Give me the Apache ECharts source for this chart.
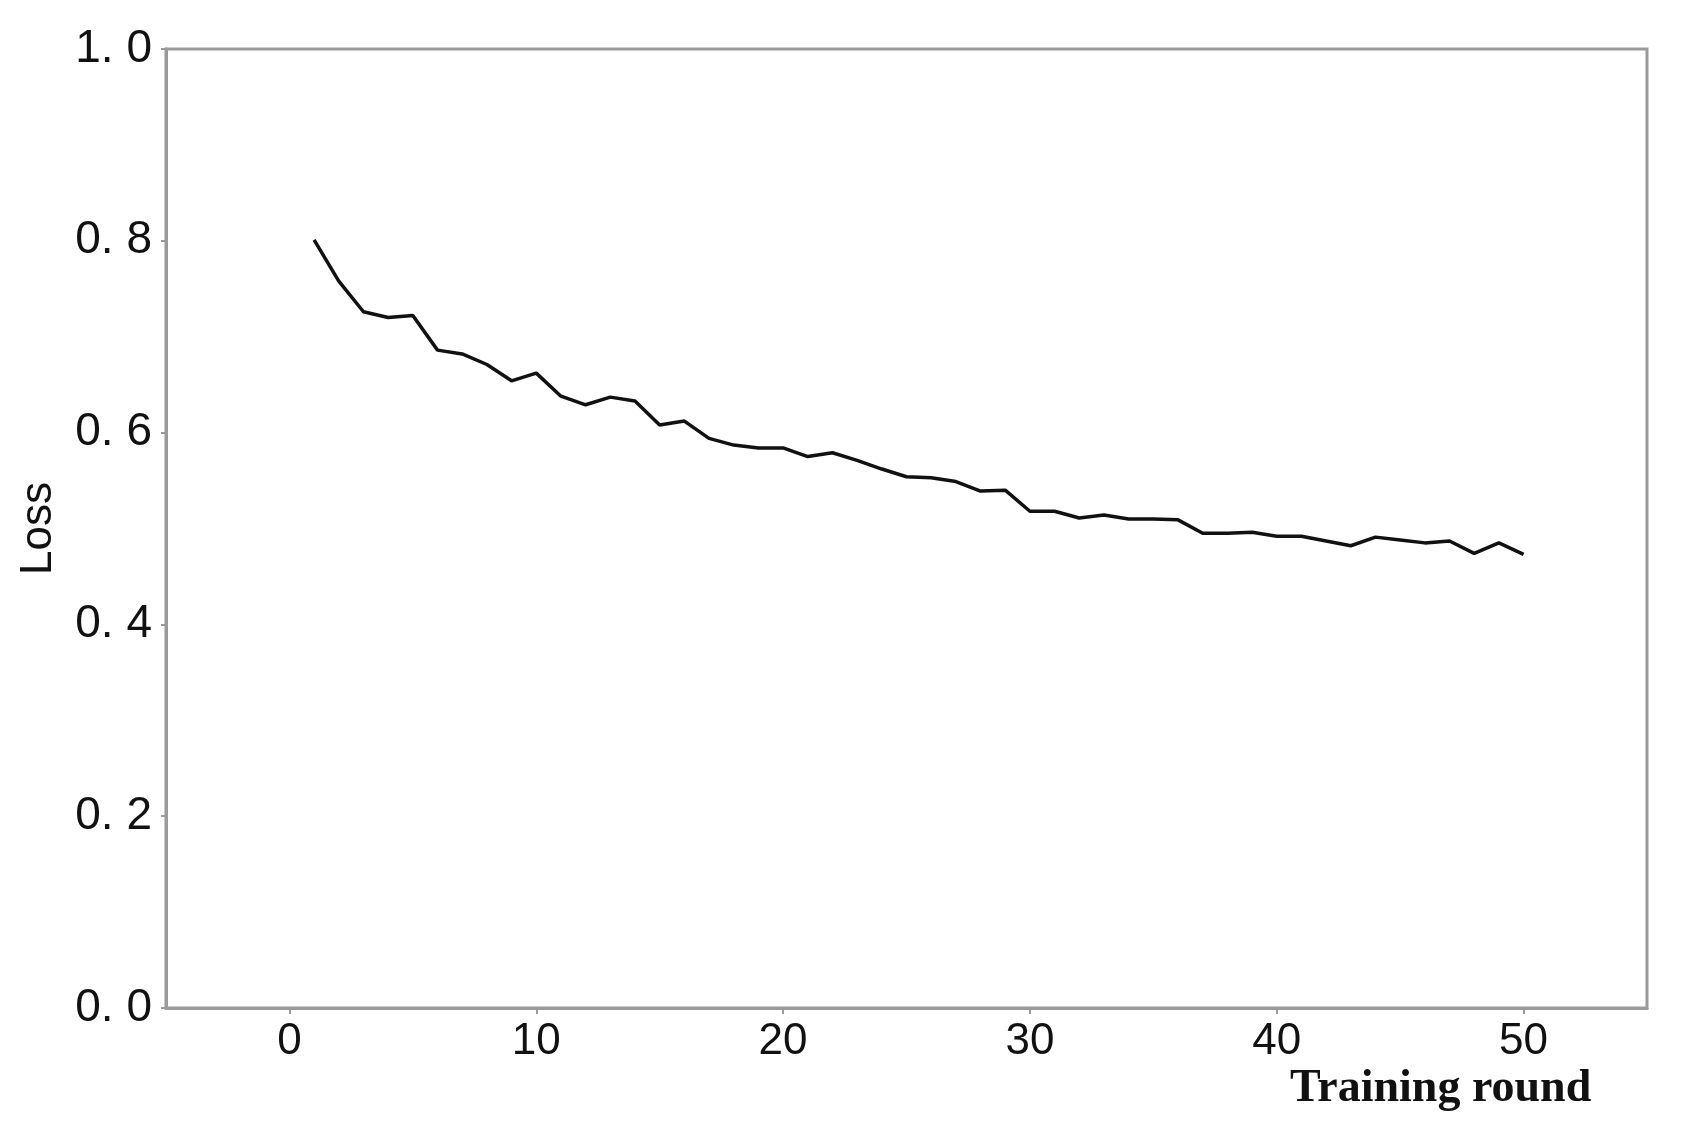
<!DOCTYPE html>
<html>
<head>
<meta charset="utf-8">
<script src="https://cdn.jsdelivr.net/npm/echarts@6/dist/echarts.min.js"></script>
<style>
  html, body { margin: 0; padding: 0; background: #fff; }
  #chart { width: 1685px; height: 1122px; }
</style>
</head>
<body>
<div id="chart"></div>
<script>
// Training loss per round
const rounds = [1, 2, 3, 4, 5, 6, 7, 8, 9, 10, 11, 12, 13, 14, 15, 16, 17, 18, 19, 20,
  21, 22, 23, 24, 25, 26, 27, 28, 29, 30, 31, 32, 33, 34, 35, 36, 37, 38, 39, 40,
  41, 42, 43, 44, 45, 46, 47, 48, 49, 50];
const loss = [0.801, 0.758, 0.726, 0.720, 0.722, 0.686, 0.682, 0.671, 0.654, 0.662,
  0.638, 0.629, 0.637, 0.633, 0.608, 0.612, 0.594, 0.587, 0.584, 0.584,
  0.575, 0.579, 0.571, 0.562, 0.554, 0.553, 0.549, 0.539, 0.540, 0.518,
  0.518, 0.511, 0.514, 0.510, 0.510, 0.509, 0.495, 0.495, 0.496, 0.492,
  0.492, 0.487, 0.482, 0.491, 0.488, 0.485, 0.487, 0.474, 0.485, 0.473];
const xTicks = [0, 10, 20, 30, 40, 50];

const axisGray = "#9a9a9a";
const sans = "Liberation Sans";

const chart = echarts.init(document.getElementById("chart"));

const option = {
  backgroundColor: "#fff",
  animation: false,
  grid: {
    left: 166, right: 38, top: 49, bottom: 114,
    show: true, borderColor: axisGray, borderWidth: 3, backgroundColor: "transparent",
  },
  xAxis: {
    type: "value",
    min: -5,
    max: 55,
    axisLine: { show: true, onZero: false, lineStyle: { color: axisGray, width: 3 } },
    axisTick: { show: true, customValues: xTicks, length: 6, lineStyle: { color: axisGray, width: 2 } },
    axisLabel: { customValues: xTicks, color: "#111", fontFamily: sans, fontSize: 44, margin: 12 },
    splitLine: { show: false },
  },
  yAxis: {
    type: "value",
    min: 0,
    max: 1,
    interval: 0.2,
    name: "Loss",
    nameLocation: "middle",
    nameGap: 105,
    nameTextStyle: { color: "#111", fontFamily: sans, fontSize: 44 },
    axisLine: { show: true, onZero: false, lineStyle: { color: axisGray, width: 3 } },
    axisTick: { show: true, length: 5, lineStyle: { color: axisGray, width: 2 } },
    axisLabel: {
      color: "#111", fontFamily: sans, fontSize: 46, margin: 14,
      formatter: (v) => v.toFixed(1).replace(".", ". "),
    },
    splitLine: { show: false },
  },
  graphic: [
    {
      type: "text",
      left: 1290,
      top: 1066,
      style: {
        text: "Training round",
        fill: "#111",
        font: "bold 46px 'Liberation Serif'",
      },
    },
  ],
  series: [
    {
      type: "line",
      data: rounds.map((r, i) => [r, loss[i]]),
      showSymbol: false,
      lineStyle: { color: "#111", width: 3.5 },
    },
  ],
};

chart.setOption(option);
</script>
</body>
</html>
